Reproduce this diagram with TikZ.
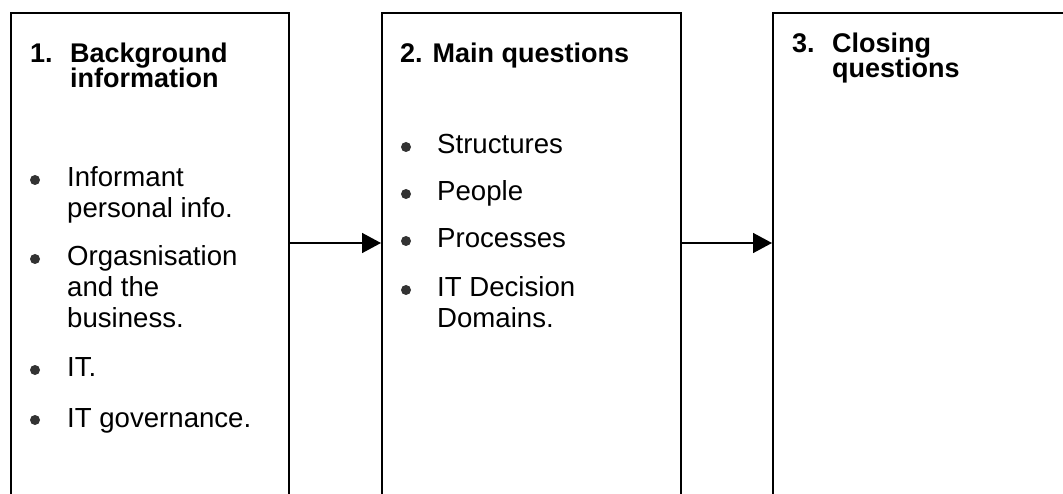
\documentclass[tikz,border=0pt]{standalone}
\usepackage{fontspec}
\setmainfont{Liberation Sans}
\usetikzlibrary{arrows.meta}
\begin{document}
\begin{tikzpicture}[x=1pt,y=-1pt,
  stage/.style={draw=black,line width=1.6pt,anchor=north west,inner sep=0pt},
  head/.style={anchor=base west,inner sep=0pt,font=\fontsize{27}{31}\selectfont\bfseries},
  item/.style={anchor=base west,inner sep=0pt,font=\fontsize{27.6}{31}\selectfont},
  dot/.style={circle,fill=black!80,inner sep=0pt,minimum size=10pt},
  flow/.style={line width=1.5pt,-{Triangle[length=19pt,width=20pt]}}]
\path[use as bounding box] (0,0) rectangle (1063,494);
\begin{scope}
\clip (0,0) rectangle (1063,494);
% the three stages, open at the bottom of the page
\node[stage,minimum width=278pt,minimum height=520pt] (s1) at (10,12) {};
\node[stage,minimum width=299pt,minimum height=520pt] (s2) at (381,12) {};
\node[stage,minimum width=320pt,minimum height=520pt] (s3) at (772,12) {};
\end{scope}

% stage 1
\node[head] (h1n) at (30,63) {1.};
\node[head] (h1a) at (70,63) {Background};
\node[head] (h1b) at (70,88) {information};
\node[dot] (d11) at (35,180) {};
\node[item] (t11a) at (67,187) {Informant};
\node[item] (t11b) at (67,218) {personal info.};
\node[dot] (d12) at (35,259) {};
\node[item] (t12a) at (67,266) {Orgasnisation};
\node[item] (t12b) at (67,297) {and the};
\node[item] (t12c) at (67,328) {business.};
\node[dot] (d13) at (35,370) {};
\node[item] (t13) at (67,377) {IT.};
\node[dot] (d14) at (35,420) {};
\node[item] (t14) at (67,427) {IT governance.};

% stage 2
\node[head] (h2) at (400,63) {2. Main questions};
\node[dot] (d21) at (406,147) {};
\node[item] (t21) at (437,154) {Structures};
\node[dot] (d22) at (406,194) {};
\node[item] (t22) at (437,201) {People};
\node[dot] (d23) at (406,241) {};
\node[item] (t23) at (437,248) {Processes};
\node[dot] (d24) at (406,290) {};
\node[item] (t24a) at (437,297) {IT Decision};
\node[item] (t24b) at (437,328) {Domains.};

% stage 3
\node[head] (h3n) at (792,53) {3.};
\node[head] (h3a) at (832,53) {Closing};
\node[head] (h3b) at (832,78) {questions};

% flow between the stages
\coordinate (lvl) at (0,243);
\draw[flow] (s1.east |- lvl) -- (s2.west |- lvl);
\draw[flow] (s2.east |- lvl) -- (s3.west |- lvl);
\end{tikzpicture}
\end{document}
